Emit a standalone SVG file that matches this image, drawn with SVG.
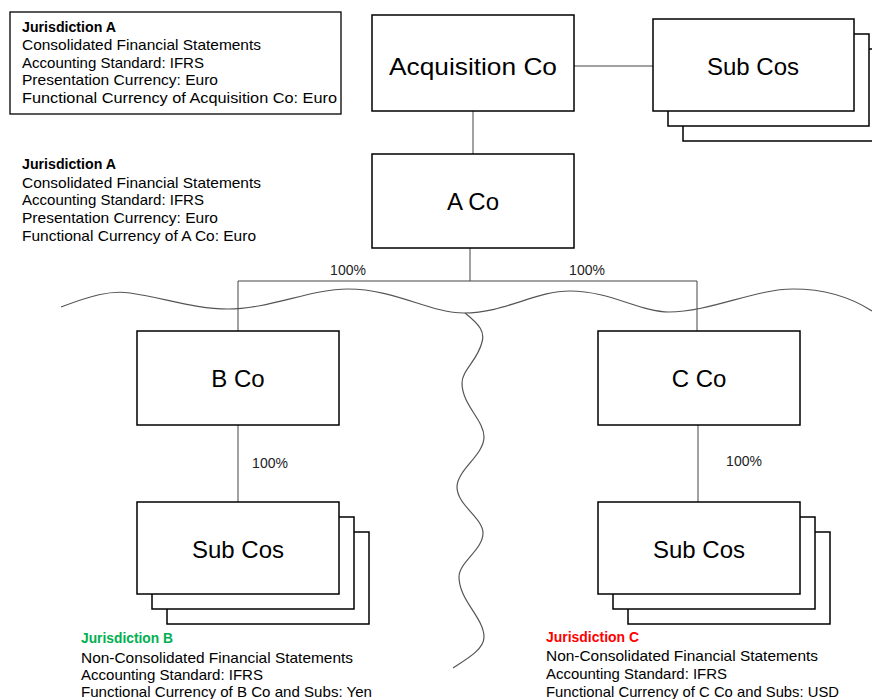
<svg xmlns="http://www.w3.org/2000/svg" width="872" height="699" viewBox="0 0 872 699">
<style>
.box{fill:#fff;stroke:#000;stroke-width:1.5}
.ln{fill:none;stroke:#444;stroke-width:1}
.wave{fill:none;stroke:#555;stroke-width:1.2}
.big{font-family:"Liberation Sans",Arial,sans-serif;font-size:24px;fill:#000;text-anchor:middle}
.t{font-family:"Liberation Sans",Arial,sans-serif;font-size:14.5px;fill:#000}
.b{font-weight:bold}
.pct{font-family:"Liberation Sans",Arial,sans-serif;font-size:14px;fill:#222;text-anchor:middle}
</style>
<rect width="872" height="699" fill="#fff"/>
<g id="connectors">
<line class="ln" x1="574" y1="66" x2="653" y2="66"/>
<line class="ln" x1="473" y1="111" x2="473" y2="154"/>
<polyline class="ln" points="238,331 238,281 697,281 697,331"/>
<line class="ln" x1="470" y1="248" x2="470" y2="281"/>
<line class="ln" x1="238" y1="425" x2="238" y2="502"/>
<line class="ln" x1="698" y1="425" x2="698" y2="502"/>
<text class="pct" x="348" y="275">100%</text>
<text class="pct" x="587" y="275">100%</text>
<text class="pct" x="270" y="468">100%</text>
<text class="pct" x="744" y="466">100%</text>
</g>
<g id="waves">
<path class="wave" d="M61,307 C90,296 110,290 130,293 C165,298 195,309 228,309 C270,309 310,289 348,289 C395,289 430,313 464,313 C505,313 535,291 570,291 C610,291 640,312 669,312 C710,312 755,289 793,289 C830,289 855,300 872,311"/>
<path class="wave" d="M465,313 C480,325 485,332 482,342 C478,360 462,370 462,383 C462,405 484,420 484,437 C484,455 457,470 457,487 C457,505 483,518 483,533 C483,550 459,562 459,577 C459,600 484,618 484,637 C484,650 465,660 453,668"/>
</g>
<g id="jurisdiction-a-1">
<rect x="10" y="12" width="331" height="102" fill="#fff" stroke="#000" stroke-width="1.3"/>
<text class="t b" x="22" y="32" textLength="94" lengthAdjust="spacingAndGlyphs">Jurisdiction A</text>
<text class="t" x="22" y="50" textLength="239" lengthAdjust="spacingAndGlyphs">Consolidated Financial Statements</text>
<text class="t" x="22" y="68" textLength="182" lengthAdjust="spacingAndGlyphs">Accounting Standard: IFRS</text>
<text class="t" x="22" y="85" textLength="196" lengthAdjust="spacingAndGlyphs">Presentation Currency: Euro</text>
<text class="t" x="22" y="103" textLength="315" lengthAdjust="spacingAndGlyphs">Functional Currency of Acquisition Co: Euro</text>
</g>
<g id="acquisition-co">
<rect class="box" x="372" y="15" width="202" height="96"/>
<text class="big" x="473" y="75" textLength="168" lengthAdjust="spacingAndGlyphs">Acquisition Co</text>
</g>
<g id="sub-cos-top">
<rect class="box" x="683" y="49" width="202" height="92"/>
<rect class="box" x="668" y="34" width="201" height="92"/>
<rect class="box" x="653" y="19" width="201" height="92"/>
<text class="big" x="753" y="75">Sub Cos</text>
</g>
<g id="jurisdiction-a-2">
<text class="t b" x="22" y="169" textLength="94" lengthAdjust="spacingAndGlyphs">Jurisdiction A</text>
<text class="t" x="22" y="188" textLength="239" lengthAdjust="spacingAndGlyphs">Consolidated Financial Statements</text>
<text class="t" x="22" y="205" textLength="182" lengthAdjust="spacingAndGlyphs">Accounting Standard: IFRS</text>
<text class="t" x="22" y="223" textLength="196" lengthAdjust="spacingAndGlyphs">Presentation Currency: Euro</text>
<text class="t" x="22" y="241" textLength="234" lengthAdjust="spacingAndGlyphs">Functional Currency of A Co: Euro</text>
</g>
<g id="a-co">
<rect class="box" x="372" y="154" width="202" height="94"/>
<text class="big" x="473" y="210">A Co</text>
</g>
<g id="b-co">
<rect class="box" x="137" y="331" width="202" height="94"/>
<text class="big" x="238" y="387">B Co</text>
</g>
<g id="c-co">
<rect class="box" x="598" y="331" width="202" height="94"/>
<text class="big" x="699" y="387">C Co</text>
</g>
<g id="sub-cos-b">
<rect class="box" x="167" y="532" width="202" height="92"/>
<rect class="box" x="152" y="517" width="202" height="92"/>
<rect class="box" x="137" y="502" width="202" height="92"/>
<text class="big" x="238" y="558">Sub Cos</text>
</g>
<g id="sub-cos-c">
<rect class="box" x="628" y="532" width="202" height="92"/>
<rect class="box" x="613" y="517" width="202" height="92"/>
<rect class="box" x="598" y="502" width="202" height="92"/>
<text class="big" x="699" y="558">Sub Cos</text>
</g>
<g id="jurisdiction-b">
<text class="t b" x="81" y="643" style="fill:#00B050" textLength="92" lengthAdjust="spacingAndGlyphs">Jurisdiction B</text>
<text class="t" x="81" y="663" textLength="272" lengthAdjust="spacingAndGlyphs">Non-Consolidated Financial Statements</text>
<text class="t" x="81" y="680" textLength="182" lengthAdjust="spacingAndGlyphs">Accounting Standard: IFRS</text>
<text class="t" x="81" y="697" textLength="291" lengthAdjust="spacingAndGlyphs">Functional Currency of B Co and Subs: Yen</text>
</g>
<g id="jurisdiction-c">
<text class="t b" x="546" y="642" style="fill:#FF0000" textLength="93" lengthAdjust="spacingAndGlyphs">Jurisdiction C</text>
<text class="t" x="546" y="661" textLength="272" lengthAdjust="spacingAndGlyphs">Non-Consolidated Financial Statements</text>
<text class="t" x="546" y="679" textLength="181" lengthAdjust="spacingAndGlyphs">Accounting Standard: IFRS</text>
<text class="t" x="546" y="697" textLength="293" lengthAdjust="spacingAndGlyphs">Functional Currency of C Co and Subs: USD</text>
</g>
</svg>
